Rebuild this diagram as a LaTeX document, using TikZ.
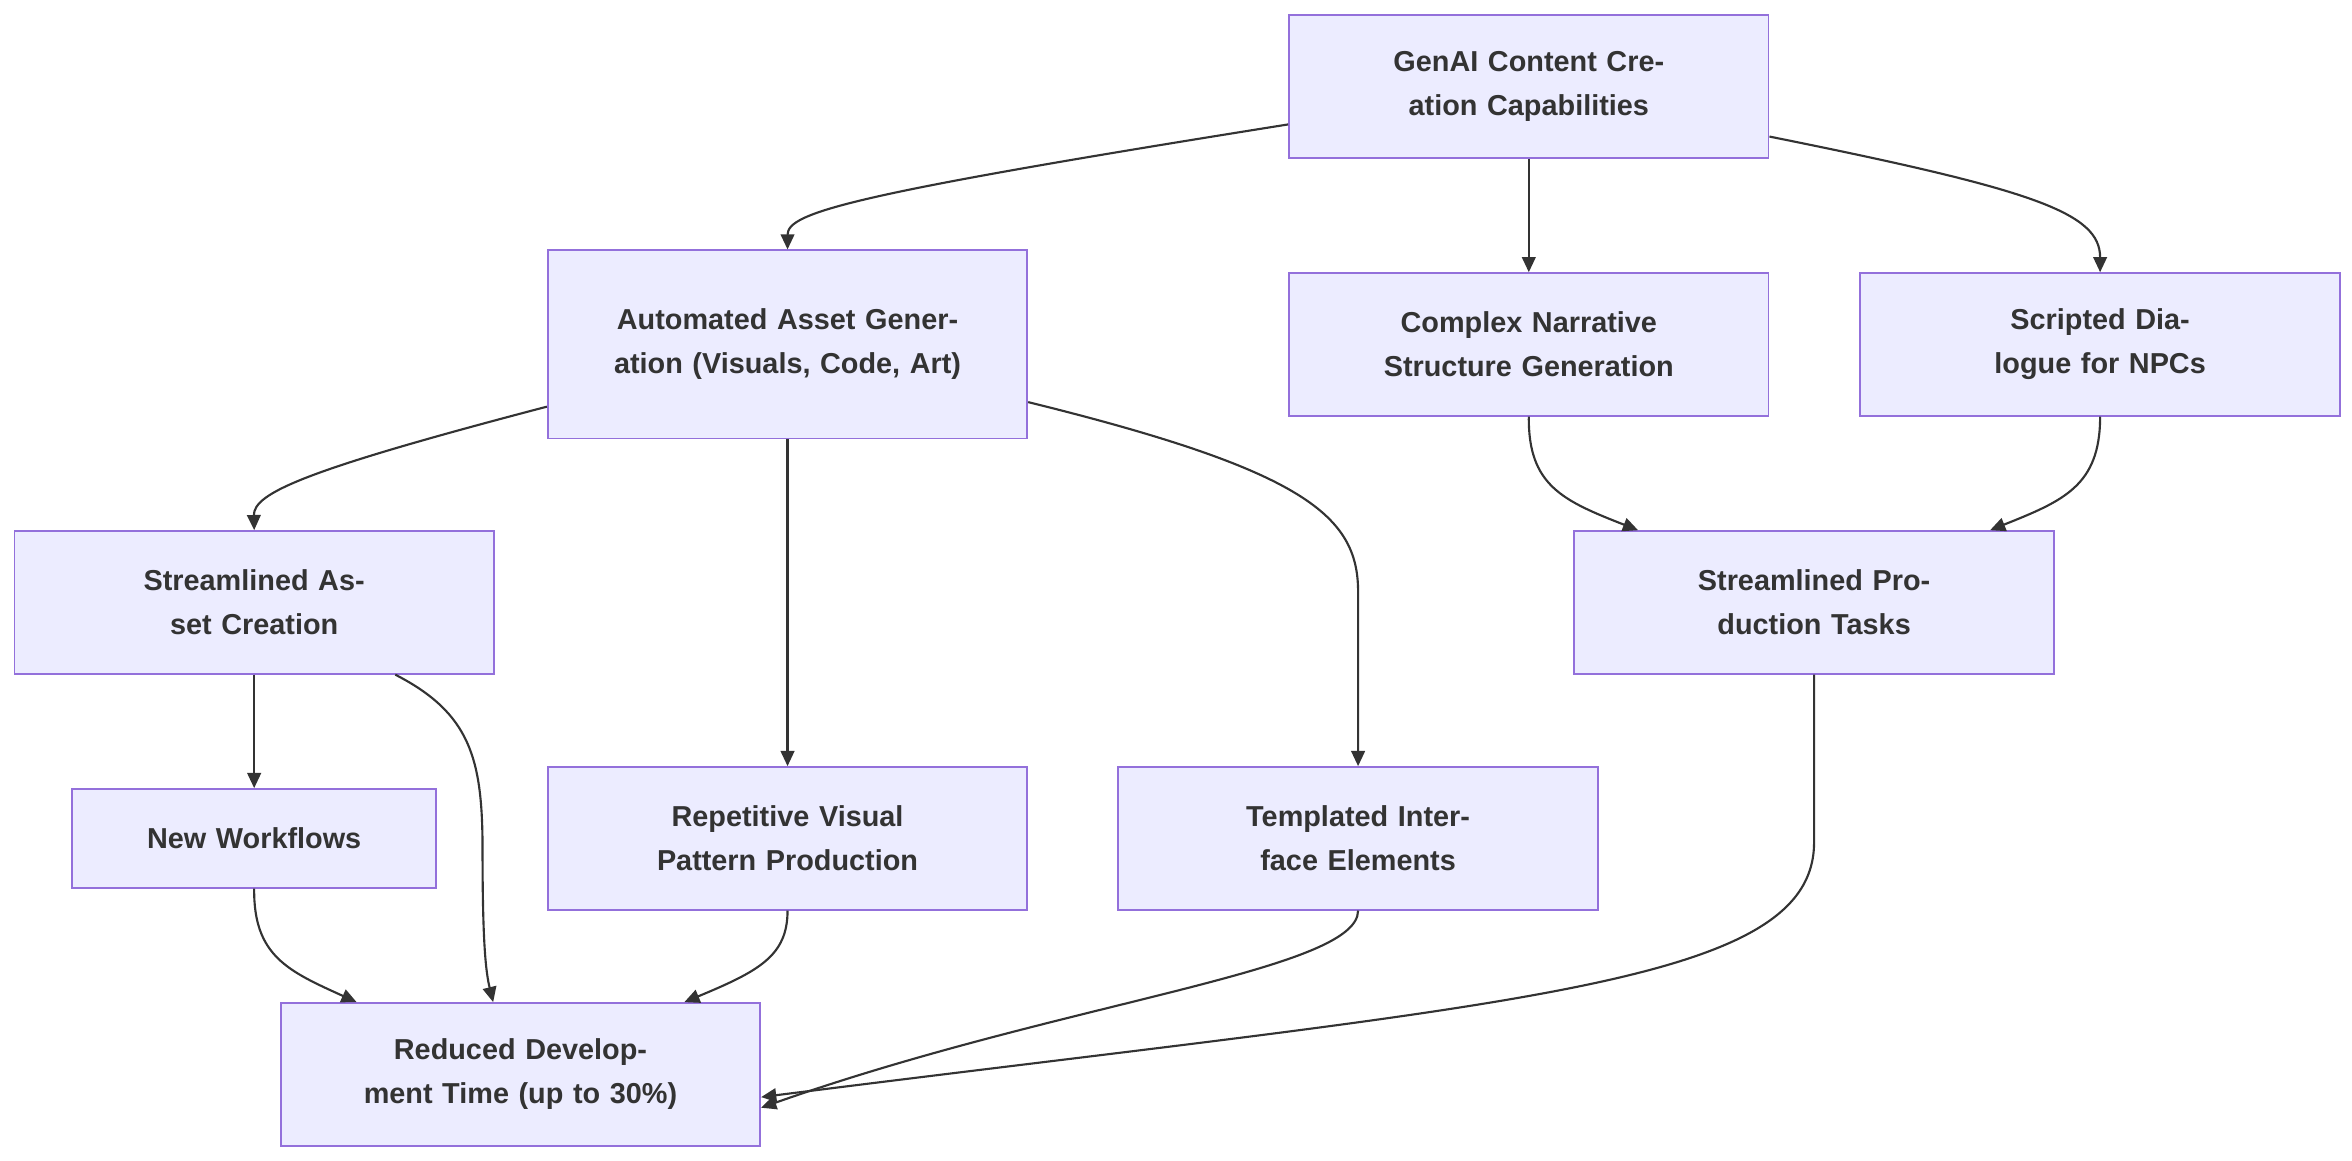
\documentclass[tikz,border=0pt]{standalone}
\usepackage{fontspec}
\setmainfont{Liberation Sans}
\usetikzlibrary{arrows.meta,positioning}
\definecolor{boxfill}{HTML}{ECECFF}
\definecolor{boxline}{HTML}{9370DB}
\definecolor{ink}{HTML}{333333}
\tikzset{
	box/.style={draw=boxline, fill=boxfill, line width=1.2pt, text=ink,
		minimum width=316pt, minimum height=94pt, text width=240pt, align=center,
		font=\fontsize{19}{29}\selectfont\bfseries, inner sep=0pt},
	link/.style={draw=ink, line width=1.4pt, -{Triangle[length=10pt,width=9pt]}}
}
\begin{document}
\begin{tikzpicture}[x=1pt,y=-1pt]
	\useasboundingbox (0,0) rectangle (1550,765);
	
	% nodes
	\node[box] (genai) at (1007.5,57) {GenAI Content Creation Capabilities};
	\node[box, minimum height=124pt] (auto) at (519,227) {Automated Asset Generation (Visuals, Code, Art)};
	\node[box] (narr) at (1007.5,227) {Complex Narrative Structure Generation};
	\node[box] (dial) at (1384,227) {Scripted Dialogue for NPCs};
	\node[box] (sasset) at (167.5,397) {Streamlined Asset Creation};
	\node[box] (sprod) at (1195.5,397) {Streamlined Production Tasks};
	\node[box, minimum width=216pt, minimum height=65pt] (work) at (167.5,552.5) {New Workflows};
	\node[box] (rep) at (519,552.5) {Repetitive Visual Pattern Production};
	\node[box] (tmpl) at (895,552.5) {Templated Interface Elements};
	\node[box] (time) at (343,708) {Reduced Development Time (up to 30\%)};
	
	% edges
	\draw[link] ([yshift=-25pt]genai.west) .. controls (560,128) and (519,140) .. (auto.north);
	\draw[link] (genai.south) -- (narr.north);
	\draw[link] ([yshift=-33pt]genai.east) .. controls (1340,125) and (1384,140) .. (dial.north);
	\draw[link] ([yshift=-41pt]auto.west) .. controls (200,310) and (167,325) .. (sasset.north);
	\draw[link] (auto.south) -- (rep.north);
	\draw[link] ([yshift=-38pt]auto.east) .. controls (860,310) and (895,340) .. (895,390) -- (tmpl.north);
	\draw[link] (narr.south) .. controls (1007,320) and (1030,330) .. ([xshift=-116pt]sprod.north);
	\draw[link] (dial.south) .. controls (1384,320) and (1360,330) .. ([xshift=116pt]sprod.north);
	\draw[link] (sasset.south) -- (work.north);
	\draw[link] ([xshift=93pt]sasset.south) .. controls (310,470) and (318,500) .. (318,560) .. controls (318,620) and (320,640) .. ([xshift=-18pt]time.north);
	\draw[link] (work.south) .. controls (167,630) and (190,640) .. ([xshift=-108pt]time.north);
	\draw[link] (rep.south) .. controls (519,630) and (500,640) .. ([xshift=108pt]time.north);
	\draw[link] (tmpl.south) .. controls (895,640) and (700,660) .. ([yshift=-22pt]time.east);
	\draw[link] (sprod.south) -- (1195.5,555) .. controls (1195.5,650) and (1000,660) .. ([yshift=-15pt]time.east);
\end{tikzpicture}
\end{document}
